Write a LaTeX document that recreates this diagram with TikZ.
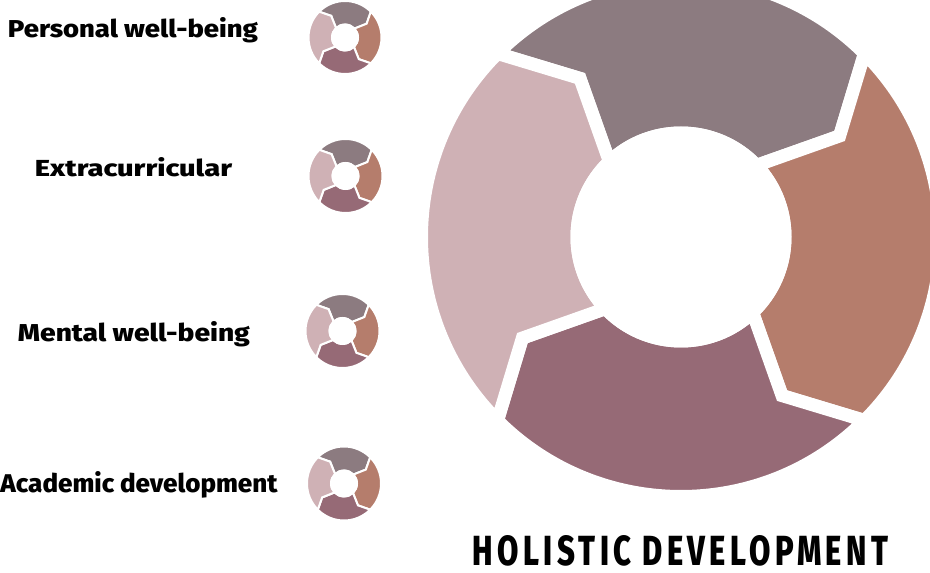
\documentclass[tikz,border=0pt]{standalone}
\usepackage{fontspec}
\setmainfont{Fira Sans}[BoldFont={Fira Sans ExtraBold}]
\usepackage{graphicx}

\definecolor{segtop}{RGB}{140,123,128}
\definecolor{segright}{RGB}{181,125,108}
\definecolor{segbottom}{RGB}{150,106,118}
\definecolor{segleft}{RGB}{207,177,181}

\tikzset{
  itemtext/.style={anchor=base, inner sep=0pt, font=\bfseries},
}

\begin{document}
\begin{tikzpicture}[x=1pt, y=1pt]
      \useasboundingbox (0,0) rectangle (930,573);

      % rings: centre x / centre y / outer r / inner r / gap
      \foreach \cx/\cy/\ro/\ri/\gw in {681/336/253/110.5/13, 345/535.5/35.5/14/2,
          345.5/397/36/14/2, 342.5/242/36/14/2, 344/89.5/36/14/2} {
        \pgfmathsetmacro\rout{\ro+\gw/2}
        \pgfmathsetmacro\rin{\ri-\gw/2}
        \pgfmathsetmacro\rmid{(\ri+\ro)/2+0.025*\ro}
        \foreach \a/\col in {135/segtop, 45/segright, -45/segbottom, -135/segleft} {
          \filldraw[fill=\col, draw=white, line width=\gw pt, shift={(\cx,\cy)}]
            (\a:\rout) arc[start angle=\a, end angle=\a-90, radius=\rout]
            -- (\a-102.5:\rmid) -- (\a-91.5:\rin)
            arc[start angle=\a-91.5, end angle=\a-1.5, radius=\rin]
            -- (\a-12.5:\rmid) -- cycle;
        }
        \fill[white] (\cx,\cy) circle[radius=\ri];
      }

      \node[itemtext] (personal) at (133,535) {\resizebox{250pt}{20pt}{Personal well-being}};
      \node[itemtext] (extra) at (133.5,396) {\resizebox{197pt}{19pt}{Extracurricular}};
      \node[itemtext] (mental) at (134,231) {\resizebox{232pt}{20pt}{Mental well-being}};
      \node[itemtext] (academic) at (139,80) {\resizebox{277pt}{21pt}{Academic development}};

      \node[itemtext] (title) at (680.5,7) {\resizebox{415pt}{30pt}{\addfontfeatures{LetterSpace=14}HOLISTIC DEVELOPMENT}};
    \end{tikzpicture}
\end{document}
